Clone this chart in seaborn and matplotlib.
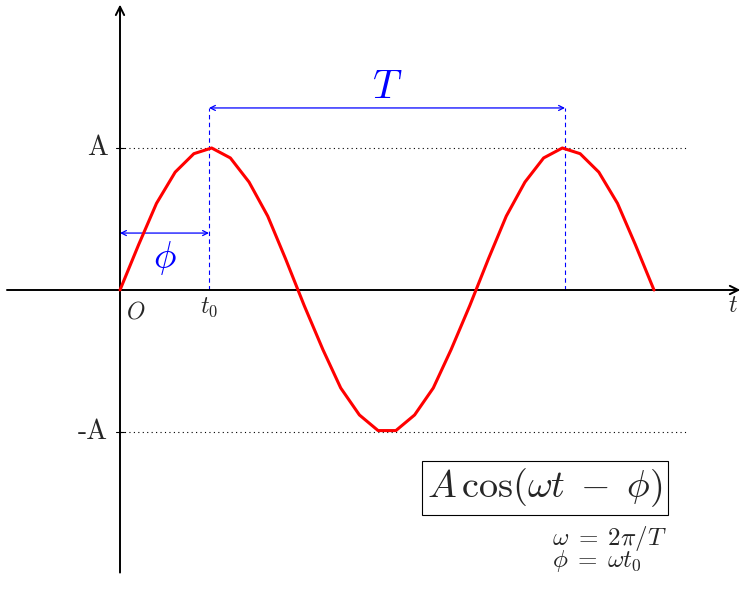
import matplotlib
matplotlib.use("Agg")
import matplotlib.pyplot as plt
import seaborn as sns

# Sample points of the red curve (t in units of t0, y in units of A)
t_vals = [0.00, 0.21, 0.41, 0.62, 0.83, 1.03, 1.24, 1.45, 1.66, 1.86,
          2.07, 2.28, 2.48, 2.69, 2.90, 3.10, 3.31, 3.52, 3.72, 3.93,
          4.14, 4.34, 4.55, 4.76, 4.97, 5.17, 5.38, 5.59, 5.79, 6.00]
y_vals = [0.00, 0.32, 0.61, 0.83, 0.96, 1.00, 0.93, 0.76, 0.52, 0.22,
          -0.11, -0.42, -0.69, -0.88, -0.99, -0.99, -0.88, -0.69, -0.42, -0.11,
          0.22, 0.52, 0.76, 0.93, 1.00, 0.96, 0.83, 0.61, 0.32, 0.00]

# reference marks
amplitude = 1.0
t0 = 1.0
period = 4.0

sns.set_theme(style="white")
plt.rcParams["mathtext.fontset"] = "cm"

fig = plt.figure(figsize=(7.52, 5.94), dpi=100)
ax = fig.add_axes([0, 0, 1, 1])
ax.set_xlim(-120 / 89, 632 / 89)
ax.set_ylim(-304 / 142, 290 / 142)
ax.axis("off")

# axes with arrows
ax.annotate("", xy=(6.97, 0), xytext=(-1.27, 0),
            arrowprops=dict(arrowstyle="->,head_length=0.5,head_width=0.25", lw=1.4,
                            color="black", shrinkA=0, shrinkB=0))
ax.annotate("", xy=(0, 2.01), xytext=(0, -1.99),
            arrowprops=dict(arrowstyle="->,head_length=0.5,head_width=0.25", lw=1.4,
                            color="black", shrinkA=0, shrinkB=0))

# dotted amplitude levels + small ticks
for lev in (amplitude, -amplitude):
    ax.plot([0, 6.36], [lev, lev], color="black", lw=0.8, ls=(0, (1, 3)))
    ax.plot([-0.04, 0.04], [lev, lev], color="black", lw=0.8)
ax.text(-0.135, amplitude, "A", family="cmr10", fontsize=20, ha="right", va="center")
ax.text(-0.135, -amplitude, "-A", family="cmr10", fontsize=20, ha="right", va="center")

# the curve
sns.lineplot(x=t_vals, y=y_vals, color="red", lw=2.2, sort=False, ax=ax, zorder=5)

# dashed markers at t0 and t0 + T
arrow_y = 1.282
for xv in (t0, t0 + period):
    ax.plot([xv, xv], [0, arrow_y], color="blue", lw=0.8, ls=(0, (4, 3)))

# period arrow
ax.annotate("", xy=(t0 + period, arrow_y), xytext=(t0, arrow_y),
            arrowprops=dict(arrowstyle="<->,head_length=0.3,head_width=0.15", lw=0.9,
                            color="blue", shrinkA=0, shrinkB=0))
ax.text(3.0, 1.43, r"$T$", color="blue", fontsize=29, ha="center", va="center")

# phase arrow
ax.annotate("", xy=(t0, 0.401), xytext=(0, 0.401),
            arrowprops=dict(arrowstyle="<->,head_length=0.3,head_width=0.15", lw=0.9,
                            color="blue", shrinkA=0, shrinkB=0))
ax.text(0.506, 0.225, r"$\phi$", color="blue", fontsize=27, ha="center", va="center")

# axis labels
ax.text(0.18, -0.148, r"$O$", fontsize=17, ha="center", va="center")
ax.text(t0, -0.12, r"$t_0$", fontsize=17, ha="center", va="center")
ax.text(6.888, -0.106, r"$t$", fontsize=17, ha="center", va="center")

# formula box
ax.text(4.775, -1.394, r"$A\,\cos(\omega t\;-\;\phi)$", fontsize=27.5, ha="center", va="center",
        bbox=dict(boxstyle="square,pad=0.14", fc="white", ec="black", lw=0.8))
ax.text(4.854, -1.648, "$\\omega\\;=\\;2\\pi/T$\n$\\phi\\;=\\;\\omega t_0$", fontsize=18,
        ha="left", va="top", linespacing=0.72)

fig.savefig("out.png", dpi=100)
